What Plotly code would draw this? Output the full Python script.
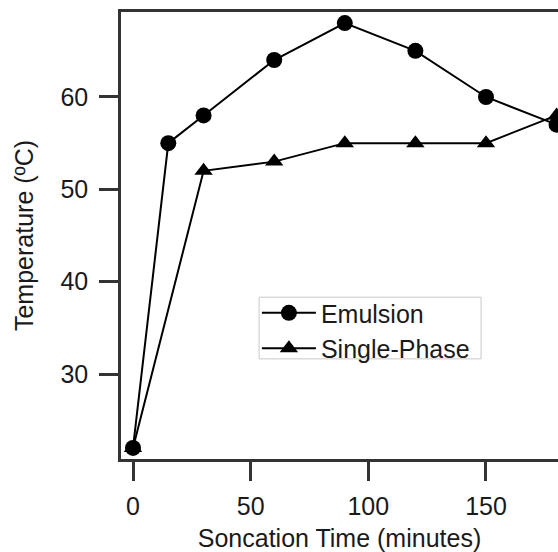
import plotly.graph_objects as go

# Sonication time (minutes) and measured temperature (°C)
emulsion_time = [0, 15, 30, 60, 90, 120, 150, 180]
emulsion_temp = [22, 55, 58, 64, 68, 65, 60, 57]

single_time = [0, 30, 60, 90, 120, 150, 180]
single_temp = [22, 52, 53, 55, 55, 55, 58]

x_ticks = [0, 50, 100, 150]
y_ticks = [30, 40, 50, 60]

FONT = "Liberation Sans, Arial, sans-serif"
INK = "#1a1a1a"
AXIS = "#333333"

fig = go.Figure()
fig.add_trace(go.Scatter(
    x=emulsion_time, y=emulsion_temp, name="Emulsion",
    mode="lines+markers",
    line=dict(color="black", width=2),
    marker=dict(symbol="circle", size=16, color="black"),
    cliponaxis=False,
))
fig.add_trace(go.Scatter(
    x=single_time, y=single_temp, name="Single-Phase",
    mode="lines+markers",
    line=dict(color="black", width=2),
    marker=dict(symbol="triangle-up", size=16, color="black"),
    cliponaxis=False,
))

# Framed box behind the legend entries
fig.add_shape(
    type="rect", xref="paper", yref="paper",
    x0=0.316, x1=0.824, y0=0.224, y1=0.362,
    fillcolor="white", line=dict(color="#c8c8c8", width=1),
    layer="below",
)

fig.update_layout(
    width=558, height=552,
    margin=dict(l=121, r=0, t=12, b=93),
    plot_bgcolor="white", paper_bgcolor="white",
    font=dict(family=FONT, size=25, color=INK),
    showlegend=True,
    legend=dict(
        x=0.311, y=0.378, xanchor="left", yanchor="top",
        bgcolor="rgba(0,0,0,0)", borderwidth=0,
        font=dict(size=25, color=INK),
        tracegroupgap=0, itemwidth=54,
    ),
    xaxis=dict(
        range=[-5.1, 180.6],
        tickvals=x_ticks,
        ticks="outside", ticklen=19, tickwidth=2.5, tickcolor=AXIS,
        ticklabelstandoff=4,
        showline=True, linecolor=AXIS, linewidth=2.5, mirror=True,
        showgrid=False, zeroline=False,
        title=dict(text="Soncation Time (minutes)", font=dict(size=25), standoff=11),
    ),
    yaxis=dict(
        range=[20.8, 69.2],
        tickvals=y_ticks,
        ticks="outside", ticklen=19, tickwidth=2.5, tickcolor=AXIS,
        ticklabelstandoff=6,
        showline=True, linecolor=AXIS, linewidth=2.5, mirror=False,
        showgrid=False, zeroline=False,
        title=dict(text="Temperature (ºC)", font=dict(size=25), standoff=20),
    ),
)

fig.write_html("out.html")
